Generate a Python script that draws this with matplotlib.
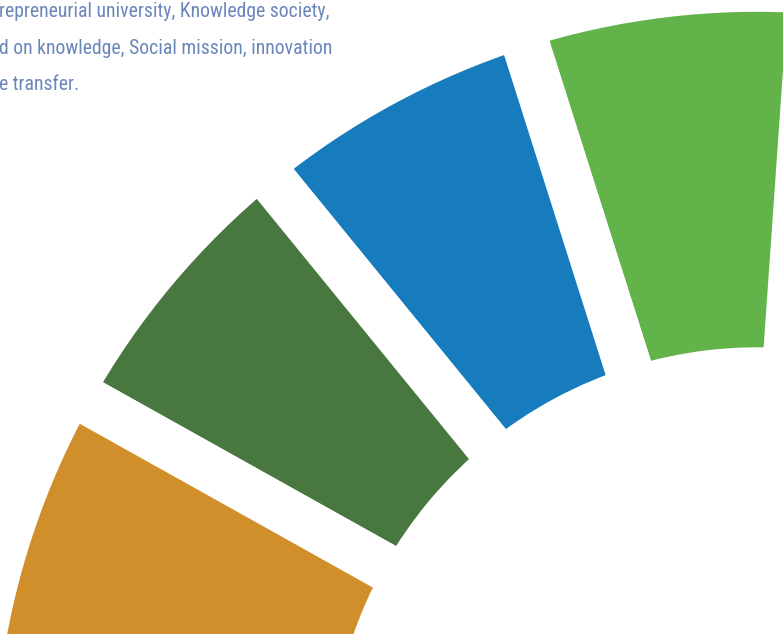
import matplotlib
matplotlib.use("Agg")
import matplotlib.pyplot as plt

# Visible segments of the wheel (fraction of a full circle each)
segments = ["SDG 15", "SDG 14", "SDG 13", "SDG 12"]
fractions = [0.06, 0.06, 0.06, 0.06]
colors = ["#62B34A", "#167CBD", "#48773F", "#D18F2B"]

text_lines = ["repreneurial university, Knowledge society,",
              "d on knowledge, Social mission, innovation",
              "e transfer."]

W, H = 783, 634
fig = plt.figure(figsize=(W / 100, H / 100), dpi=100)
ax = fig.add_axes([0, 0, 1, 1])

gap_px = 47.5
lw_pt = gap_px * 72 / 100
outer_r = 763.5 + gap_px / 2
inner_r = 428 - gap_px / 2

ax.pie(fractions, colors=colors, startangle=86.0, counterclock=True,
       normalize=False, center=(757.5, H - 775.3), radius=outer_r,
       wedgeprops=dict(width=outer_r - inner_r, edgecolor="white",
                       linewidth=lw_pt, joinstyle="miter"))

ax.set_xlim(0, W)
ax.set_ylim(0, H)
ax.set_aspect("equal")
ax.axis("off")

fams = ["Roboto Condensed", "DejaVu Sans Condensed", "Liberation Sans Narrow",
        "Lato", "DejaVu Sans"]
for i, line in enumerate(text_lines):
    ax.text(-1, H - (17 + i * 36.5), line, ha="left", va="baseline",
            fontsize=14.2, color="#6A86BA", family=fams)

fig.savefig("out.png", dpi=100)
